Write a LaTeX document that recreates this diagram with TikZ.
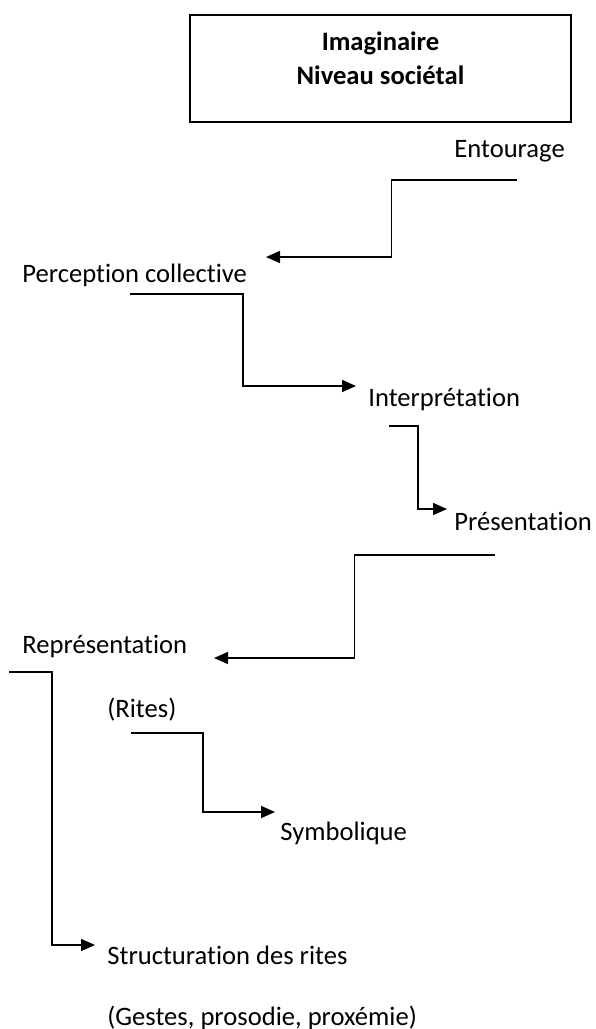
\documentclass[tikz,border=0pt]{standalone}
\usepackage{fontspec}
\setmainfont{Carlito}[Ligatures=NoCommon]
\usepackage{tikz}
\usetikzlibrary{arrows.meta, calc, positioning}

\begin{document}
\begin{tikzpicture}[x=0.5pt, y=-0.5pt, font=\fontsize{13.3}{17}\selectfont,
    words/.style={anchor=base west, inner sep=0pt},
    titlebox/.style={draw, line width=0.75pt, minimum width=190.5pt, minimum height=53.5pt,
        align=center, font=\fontsize{13.3}{17}\selectfont\bfseries, text height=26pt, text depth=10.5pt},
    elbow/.style={line width=0.75pt, -{Triangle[length=7pt, width=6pt]}}]
        \useasboundingbox (0,0) rectangle (595,1029);
        \node[titlebox] (imag) at (380.5,68.5) {Imaginaire\\Niveau sociétal};

        \node[words] (ent) at (454,157) {Entourage};
        \node[words] (perc) at (22,282) {Perception collective};
        \node[words] (interp) at (368,406) {Interprétation};
        \node[words] (pres) at (454,530) {Présentation};
        \node[words] (repr) at (22,653) {Représentation};
        \node[words] (rites) at (107,717) {(Rites)};
        \node[words] (symb) at (280,840) {Symbolique};
        \node[words] (struct) at (107,964) {Structuration des rites};
        \node[words] (gestes) at (107,1025) {(Gestes, prosodie, proxémie)};

        \coordinate (ent-out) at (517,180);
        \coordinate (perc-in) at (266,257);
        \coordinate (perc-out) at (130,294);
        \coordinate (interp-in) at (356,386);
        \coordinate (interp-out) at (389,426);
        \coordinate (pres-in) at (447,509);
        \coordinate (pres-out) at (495,555);
        \coordinate (repr-in) at (214,658);
        \coordinate (rites-out) at (131,733);
        \coordinate (symb-in) at (275,812);
        \coordinate (repr-out) at (9,672);
        \coordinate (struct-in) at (95,945);

        \foreach \from/\to in
        {ent-out/perc-in,perc-out/interp-in,interp-out/pres-in,pres-out/repr-in,rites-out/symb-in,repr-out/struct-in}
        \draw[elbow] (\from) -| ($(\from)!0.5!(\to)$) |- (\to);
\end{tikzpicture}
\end{document}
